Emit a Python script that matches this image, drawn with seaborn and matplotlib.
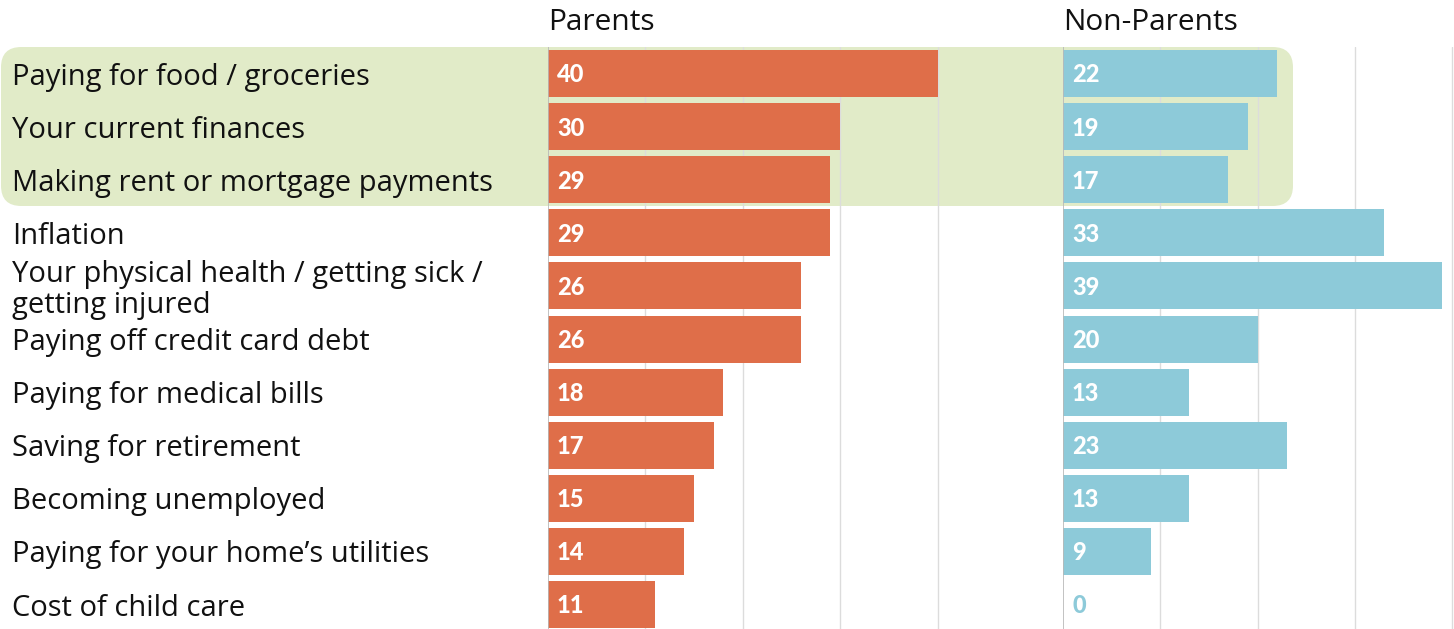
import matplotlib
matplotlib.use("Agg")
import matplotlib.pyplot as plt
from matplotlib.patches import FancyBboxPatch
import seaborn as sns
import pandas as pd

categories = [
    "Paying for food / groceries",
    "Your current finances",
    "Making rent or mortgage payments",
    "Inflation",
    "Your physical health / getting sick /\ngetting injured",
    "Paying off credit card debt",
    "Paying for medical bills",
    "Saving for retirement",
    "Becoming unemployed",
    "Paying for your home\u2019s utilities",
    "Cost of child care",
]
parents = [40, 30, 29, 29, 26, 26, 18, 17, 15, 14, 11]
non_parents = [22, 19, 17, 33, 39, 20, 13, 23, 13, 9, 0]
panel_titles = ["Parents", "Non-Parents"]

ORANGE = "#DF6E49"
BLUE = "#8DCAD9"
HIGHLIGHT = "#E1EBC8"
GRID = "#DCDCDC"
AXIS = "#B8B8B8"
TEXT_FONT = ["Open Sans", "DejaVu Sans"]

sns.set_theme(style="white")
plt.rcParams["font.family"] = ["Lato", "DejaVu Sans"]

W, H = 1454, 629
fig = plt.figure(figsize=(W / 100, H / 100), dpi=100)
fig.patch.set_facecolor("white")

# highlight band behind the top three concerns
band = FancyBboxPatch((1 / W, 1 - 206 / H), 1292 / W, 159 / H,
                      boxstyle="round,pad=0,rounding_size=0.014",
                      transform=fig.transFigure, facecolor=HIGHLIGHT,
                      edgecolor="none", zorder=-5, mutation_aspect=W / H)
fig.patches.append(band)

ax_top, ax_bot = 47, 629
panels = [
    (parents, ORANGE, 548, 1034, (0, 49.9), [10, 20, 30, 40]),
    (non_parents, BLUE, 1063, 1454, (0, 40.2), [10, 20, 30, 40]),
]

for i, (vals, color, x0, x1, xlim, grid) in enumerate(panels):
    ax = fig.add_axes([x0 / W, 1 - ax_bot / H, (x1 - x0) / W, (ax_bot - ax_top) / H])
    ax.set_facecolor("none")
    ax.set_zorder(2)
    df = pd.DataFrame({"category": categories, "value": vals})
    sns.barplot(data=df, x="value", y="category", orient="h", color=color,
                width=0.885, saturation=1, linewidth=0, ax=ax, zorder=2)
    ax.set_xlim(*xlim)
    ax.set_ylim(10.46, -0.5)
    for g in grid:
        ax.axvline(g, color=GRID, lw=1.0, zorder=1)
    ax.axvline(0, color=AXIS, lw=1.2, zorder=3)
    for sp in ax.spines.values():
        sp.set_visible(False)
    ax.set_xticks([])
    ax.set_yticks([])
    ax.set_xlabel("")
    ax.set_ylabel("")
    for j, v in enumerate(vals):
        ax.annotate(f"{v}", xy=(0, j), xytext=(6.5, -1), textcoords="offset points",
                    ha="left", va="center", fontsize=17, fontweight="black",
                    color="white" if v > 0 else color, zorder=4)
    ax.text(0, 1 + 25 / (ax_bot - ax_top), panel_titles[i], transform=ax.transAxes,
            ha="left", va="center", fontsize=21.5, color="#111111",
            family=TEXT_FONT)

# category labels on the left
lab_ax = fig.add_axes([0, 1 - ax_bot / H, 548 / W, (ax_bot - ax_top) / H])
lab_ax.set_facecolor("none")
lab_ax.set_zorder(1)
lab_ax.set_xlim(0, 548)
lab_ax.set_ylim(10.46, -0.5)
lab_ax.axis("off")
for j, c in enumerate(categories):
    lab_ax.text(12, j, c, ha="left", va="center_baseline", fontsize=21,
                color="#111111", linespacing=1.05, family=TEXT_FONT)

fig.savefig("out.png", dpi=100, facecolor="white")
